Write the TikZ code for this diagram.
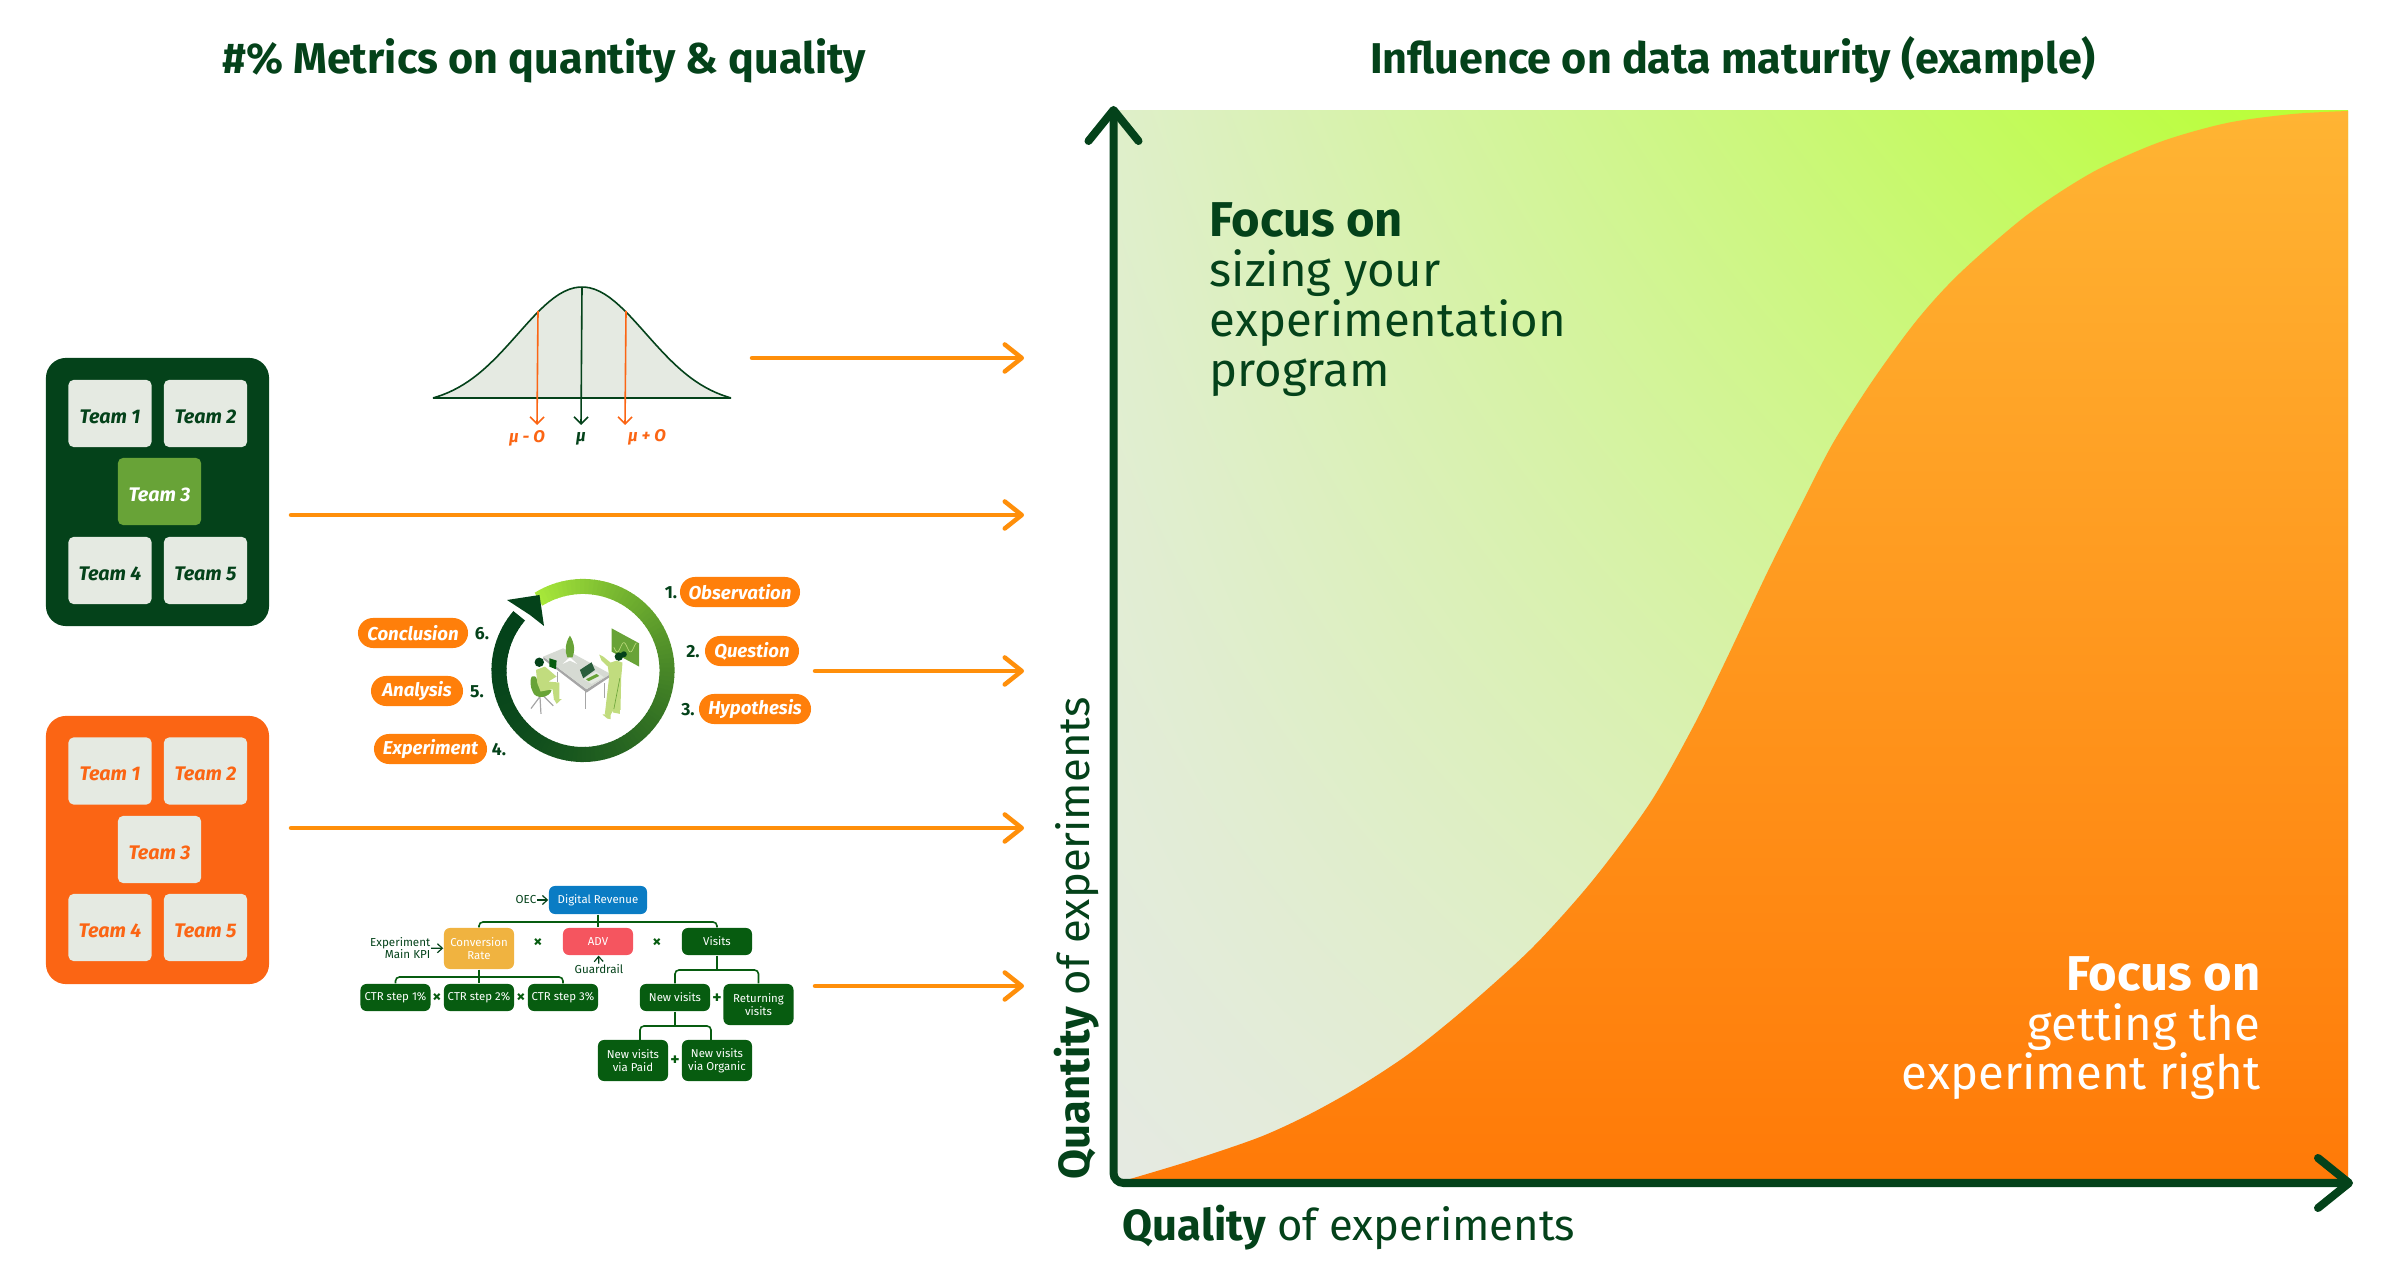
\documentclass[tikz,border=0pt]{standalone}
\usepackage{fontspec}
\setmainfont{Fira Sans}
\usepackage{xcolor}
\usetikzlibrary{arrows.meta,positioning,shadings}
\definecolor{deepgreen}{HTML}{04421A}
\definecolor{treegreen}{HTML}{075C10}
\definecolor{leafgreen}{HTML}{68A337}
\definecolor{palegreen}{HTML}{C1DC7E}
\definecolor{limegreen}{HTML}{A8E83A}
\definecolor{paper}{HTML}{E5EAE2}
\definecolor{boardorange}{HTML}{FB6514}
\definecolor{pillorange}{HTML}{FF7F0A}
\definecolor{floworange}{HTML}{FF8F0A}
\definecolor{kpiblue}{HTML}{0A7CC4}
\definecolor{kpiyellow}{HTML}{F0B340}
\definecolor{kpired}{HTML}{F5555F}
\definecolor{chartlime}{HTML}{B8FF30}
\definecolor{chartsoft}{HTML}{DFF0BC}
\definecolor{chartpale}{HTML}{DFEFCA}
\definecolor{charttop}{HTML}{FFB433}
\definecolor{chartlow}{HTML}{FF7A08}
\tikzset{
  headline/.style={text=deepgreen,font=\fontsize{12.25}{14}\selectfont\bfseries},
  board/.style={rounded corners=.2cm,inner sep=0,minimum width=2.23cm,minimum height=2.68cm},
  tile/.style={fill=paper,rounded corners=.05cm,inner sep=0,minimum width=.83cm,minimum height=.67cm,text height=5.6pt,text depth=0pt,
    font=\fontsize{5.6}{6}\selectfont\bfseries\itshape},
  pill/.style={fill=pillorange,text=white,rounded corners=.15cm,inner sep=0,minimum height=.30cm,
    font=\fontsize{5.3}{6}\selectfont\bfseries\itshape},
  stepnum/.style={text=deepgreen,font=\fontsize{5}{6}\selectfont\bfseries},
  kpi/.style={fill=treegreen,text=white,rounded corners=.06cm,inner sep=0,minimum width=.70cm,minimum height=.27cm,
    align=center,font=\fontsize{3.25}{3.6}\selectfont},
  note/.style={text=deepgreen,align=right,inner sep=0,font=\fontsize{3.3}{3.6}\selectfont},
  sign/.style={text=treegreen,inner sep=0,font=\fontsize{5}{6}\selectfont\bfseries},
  treeline/.style={draw=treegreen,line width=.016cm,rounded corners=.04cm},
  flow/.style={line width=.045cm,floworange,line cap=round,-{Straight Barb[round,length=.17cm,width=.27cm]}},
  axis/.style={line width=.08cm,deepgreen,rounded corners=.1cm,{Straight Barb[round,length=.31cm,width=.5cm]}-{Straight Barb[round,length=.31cm,width=.5cm]}},
  bigtext/.style={inner sep=0,font=\fontsize{13.45}{14.2}\selectfont},
  axistext/.style={inner sep=0,text=deepgreen,font=\fontsize{12.4}{14.2}\selectfont},
  sigma/.style={inner sep=0,font=\fontsize{4.8}{6}\selectfont\bfseries\itshape},
}
\newcommand{\focusword}{{\fontsize{13.9}{14.2}\selectfont\bfseries Focus on}}
\begin{document}
\begin{tikzpicture}[x=.01cm,y=-.01cm]
    \useasboundingbox (0,0) rectangle (2394,1274);

    % titles
    \node[headline] (titleleft) at (544,61) {\#\% Metrics on quantity \& quality};
    \node[headline] (titleright) at (1733,60) {Influence on data maturity (example)};

    % team boards
    \node[board,fill=deepgreen] (greenboard) at (157.5,492) {};
    \node[tile,text=deepgreen] (ga) at (110,413.5) {Team 1};
    \node[tile,text=deepgreen] (gb) at (205.5,413.5) {Team 2};
    \node[tile,fill=leafgreen,text=white] (gc) at (159.5,491.5) {Team 3};
    \node[tile,text=deepgreen] (gd) at (110,570.5) {Team 4};
    \node[tile,text=deepgreen] (ge) at (205.5,570.5) {Team 5};

    \node[board,fill=boardorange] (orangeboard) at (157.5,850) {};
    \node[tile,text=boardorange] (oa) at (110,771) {Team 1};
    \node[tile,text=boardorange] (ob) at (205.5,771) {Team 2};
    \node[tile,text=boardorange] (oc) at (159.5,849.5) {Team 3};
    \node[tile,text=boardorange] (od) at (110,927.5) {Team 4};
    \node[tile,text=boardorange] (oe) at (205.5,927.5) {Team 5};

    % bell curve
    \fill[paper] plot[domain=-149:149,samples=60] ({582+\x},{398-111*(exp(-(\x/64)*(\x/64)/2)-0.0665)/0.9335}) -- cycle;
    \draw[deepgreen,line width=.016cm,line join=bevel] plot[domain=-149:149,samples=60] ({582+\x},{398-111*(exp(-(\x/64)*(\x/64)/2)-0.0665)/0.9335}) -- cycle;
    \coordinate (lowtop) at (538,311);
    \coordinate (midtop) at (582,287);
    \coordinate (hightop) at (626,311);
    \node[sigma,text=boardorange] (low) at (527,438) {μ - O};
    \node[sigma,text=deepgreen] (mid) at (581,439) {μ};
    \node[sigma,text=boardorange] (high) at (647,437) {μ + O};
    \draw[boardorange,line width=.016cm,-{Straight Barb[length=.07cm,width=.14cm]}] (lowtop) -- (537,425);
    \draw[deepgreen,line width=.016cm,-{Straight Barb[length=.07cm,width=.14cm]}] (midtop) -- (581,425);
    \draw[boardorange,line width=.016cm,-{Straight Barb[length=.07cm,width=.14cm]}] (hightop) -- (625,425);

    % cycle ring
    \coordinate (ring) at (583,670.5);
    \foreach \i in {0,...,113} {
        \pgfmathsetmacro{\mixval}{100*(1-\i/113)*(1-\i/113)}
        \pgfmathsetmacro{\startval}{122-3*\i}
        \draw[limegreen!\mixval!deepgreen,line width=.15cm] (ring) ++(\startval:.84cm) arc[start angle=\startval,delta angle=-3.6,radius=.84cm];
    }
    \fill[deepgreen] (507,600) -- (539.5,595) -- (544,626) -- (530,615) -- cycle;

    % people at the desk
    \begin{scope}[shift={(520,620)},x=.00333cm,y=-.00333cm]
        \fill[leafgreen] (275,25) -- (358,70) -- (358,140) -- (275,95) -- cycle;
        \draw[palegreen,line width=.006cm,domain=282:350,samples=40] plot (\x,{82+14*sin(9*(\x-282))});
        \draw[gray!70,line width=.012cm] (197,210) -- (197,268) (255,190) -- (255,235) (112,155) -- (112,185);
        \fill[gray!70] (70,118) -- (200,218) -- (272,170) -- (272,162) -- (200,208) -- (70,110) -- cycle;
        \fill[paper!85!gray] (70,110) -- (130,85) -- (272,162) -- (200,208) -- cycle;
        \fill[white] (128,132) -- (150,112) -- (172,132) -- (150,122) -- cycle;
        \fill[leafgreen] (150,47) .. controls (165,70) and (165,95) .. (158,112) -- (142,112) .. controls (135,95) and (135,70) .. (150,47) -- cycle;
        \fill[deepgreen!85] (180,150) -- (215,127) -- (225,150) -- (190,175) -- cycle;
        \fill[paper] (190,178) -- (228,155) -- (252,172) -- (215,192) -- cycle;
        \fill[leafgreen] (198,178) -- (230,162) -- (238,168) -- (206,184) -- cycle;
        % left person
        \draw[gray!70,line width=.012cm] (60,230) -- (33,266) (60,230) -- (63,282) (70,228) -- (100,258);
        \fill[leafgreen] (35,170) .. controls (50,160) and (55,190) .. (62,210) -- (95,210) .. controls (90,235) and (45,240) .. (38,215) .. controls (30,200) and (30,180) .. (35,170) -- cycle;
        \fill[palegreen] (48,150) -- (75,140) -- (110,170) -- (85,185) -- (118,188) -- (118,240) -- (102,240) -- (98,208) -- (62,215) -- (52,190) -- cycle;
        \fill[palegreen] (102,238) -- (125,238) -- (110,252) -- cycle;
        \fill[deepgreen] (58,127) circle[radius=.047cm];
        \fill[treegreen] (88,115) -- (110,122) -- (108,148) -- (88,140) -- cycle;
        % right person
        \fill[palegreen] (238,104) -- (250,110) -- (272,128) -- (290,122) -- (308,128) -- (304,175) -- (302,270) -- (280,272) -- (272,285) -- (255,282) -- (268,170) -- (264,140) -- (245,122) -- cycle;
        \fill[palegreen] (248,284) -- (272,282) -- (272,298) -- (262,296) -- cycle;
        \fill[palegreen] (280,270) -- (300,268) -- (300,282) -- (280,278) -- cycle;
        \draw[leafgreen,line width=.006cm] (300,175) -- (282,268);
        \fill[deepgreen] (297,110) circle[radius=.042cm];
        \fill[deepgreen] (312,103) circle[radius=.03cm];
    \end{scope}

    % cycle steps
    \node[pill,minimum width=1.20cm] (observation) at (740,592) {Observation};
    \node[pill,minimum width=.94cm] (question) at (752,651) {Question};
    \node[pill,minimum width=1.12cm] (hypothesis) at (755,709) {Hypothesis};
    \node[pill,minimum width=1.10cm] (conclusion) at (413,633) {Conclusion};
    \node[pill,minimum width=.92cm] (analysis) at (417,691) {Analysis};
    \node[pill,minimum width=1.13cm] (experiment) at (430.5,749) {Experiment};
    \node[stepnum] (one) at (671,593) {1.};
    \node[stepnum] (two) at (693,652) {2.};
    \node[stepnum] (three) at (688,710) {3.};
    \node[stepnum] (six) at (482,634) {6.};
    \node[stepnum] (five) at (477,692) {5.};
    \node[stepnum] (four) at (499,750) {4.};

    % metric tree
    \node[kpi,fill=kpiblue,minimum width=.98cm,minimum height=.28cm] (revenue) at (598,900) {Digital Revenue};
    \node[kpi,fill=kpiyellow,minimum height=.41cm] (conversion) at (479,948.5) {Conversion\\Rate};
    \node[kpi,fill=kpired] (adv) at (598,941.5) {ADV};
    \node[kpi] (visits) at (717,941.5) {Visits};
    \node[kpi] (ctra) at (395.5,997.5) {CTR step 1\%};
    \node[kpi] (ctrb) at (479,997.5) {CTR step 2\%};
    \node[kpi] (ctrc) at (563,997.5) {CTR step 3\%};
    \node[kpi] (newvisits) at (675,997.5) {New visits};
    \node[kpi,minimum height=.41cm] (returning) at (758.5,1004.5) {Returning\\visits};
    \node[kpi,minimum height=.41cm] (paid) at (633,1060.5) {New visits\\via Paid};
    \node[kpi,minimum height=.41cm] (organic) at (717,1060.5) {New visits\\via Organic};
    \coordinate (busa) at (598,922);
    \coordinate (busb) at (479,977);
    \coordinate (busc) at (717,970);
    \coordinate (busd) at (675,1026);
    \coordinate (paidend) at (640,1040);
    \coordinate (organicend) at (711,1040);
    \draw[treeline] (conversion.north) |- (busa) -| (visits.north);
    \draw[treeline] (revenue.south) -- (adv.north);
    \draw[treeline] (ctra.north) |- (busb) -| (ctrc.north);
    \draw[treeline] (conversion.south) -- (ctrb.north);
    \draw[treeline] (newvisits.north) |- (busc) -| (returning.north);
    \draw[treeline] (visits.south) -- (busc);
    \draw[treeline] (paidend) |- (busd) -| (organicend);
    \draw[treeline] (newvisits.south) -- (busd);
    \node[note] (oec) at (526,900) {OEC};
    \node[note,anchor=east] (mainkpi) at (431,948) {Experiment\\Main KPI};
    \node[note] (guardrail) at (599,969) {Guardrail};
    \draw[deepgreen,line width=.012cm,-{Straight Barb[length=.05cm,width=.09cm]}] (oec) -- (revenue);
    \draw[deepgreen,line width=.012cm,-{Straight Barb[length=.05cm,width=.09cm]}] (mainkpi) -- (conversion);
    \draw[deepgreen,line width=.012cm,-{Straight Barb[length=.05cm,width=.09cm]}] (guardrail) -- (adv);
    \node[sign] (timesa) at (538,943) {×};
    \node[sign] (timesb) at (657,943) {×};
    \node[sign] (timesc) at (437,998) {×};
    \node[sign] (timesd) at (521,998) {×};
    \node[sign] (plusa) at (717,999) {+};
    \node[sign] (plusb) at (675,1061) {+};

    % flows into the chart
    \coordinate (flowa) at (752,358);
    \coordinate (flowb) at (291,515);
    \coordinate (flowc) at (815,671);
    \coordinate (flowd) at (291,828);
    \coordinate (flowe) at (815,986);
    \coordinate (enda) at (1024,358);
    \coordinate (endb) at (1024,515);
    \coordinate (endc) at (1024,671);
    \coordinate (endd) at (1024,828);
    \coordinate (ende) at (1024,986);
    \draw[flow] (flowa) -- (enda);
    \draw[flow] (flowb) -- (endb);
    \draw[flow] (flowc) -- (endc);
    \draw[flow] (flowd) -- (endd);
    \draw[flow] (flowe) -- (ende);

    % chart
    \shade[lower left=paper,upper left=chartpale,lower right=chartsoft,upper right=chartlime] (1113.5,111) rectangle (2348,1180);
    \shade[top color=charttop,bottom color=chartlow] (1130,1180) -- plot[smooth,tension=.5] coordinates {(1130,1179) (1193,1160) (1260,1137) (1310,1114) (1360,1086) (1410,1053) (1467,1007) (1533,947) (1593,880) (1650,803) (1693,727) (1726,660) (1767,573) (1800,507) (1833,443) (1873,380) (1917,320) (1960,273) (2027,215) (2093,172) (2160,142) (2227,123) (2293,114) (2348,111)} -- (2348,1180) -- cycle;
    \coordinate (ytip) at (1113.5,106);
    \coordinate (origin) at (1113.5,1183);
    \coordinate (xtip) at (2353,1183);
    \draw[axis] (ytip) -- (origin) -- (xtip);
    \node[bigtext,text=deepgreen,align=left,anchor=north west] (focusa) at (1209,202) {\focusword\\sizing your\\experimentation\\program};
    \node[bigtext,text=white,align=right,anchor=north east] (focusb) at (2261,955.5) {\focusword\\getting the\\experiment right};
    \node[axistext,anchor=base west] (xlabel) at (1122,1241) {\textbf{Quality} of experiments};
    \node[axistext,anchor=base west,rotate=90] (ylabel) at (1089,1180) {\textbf{Quantity} of experiments};
\end{tikzpicture}
\end{document}
